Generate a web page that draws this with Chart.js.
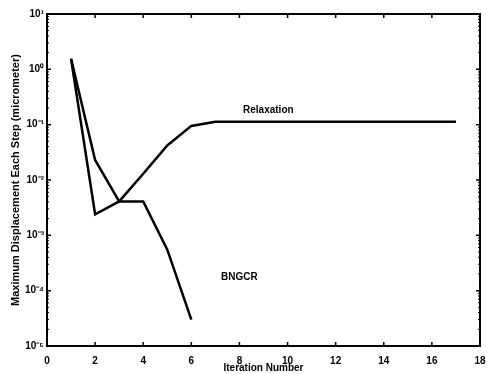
<!DOCTYPE html>
<html>
<head>
<meta charset="utf-8">
<script src="https://cdn.jsdelivr.net/npm/chart.js@4.4.0/dist/chart.umd.min.js"></script>
<style>
  html, body { margin: 0; padding: 0; background: #fff; }
  #wrap { width: 487px; height: 374px; }
</style>
</head>
<body>
<div id="wrap"><canvas id="plot"></canvas></div>
<script>
// iteration numbers
const relaxX = [1, 2, 3, 4, 5, 6, 7, 17];
const relaxY = [1.55, 0.0024, 0.0041, 0.013, 0.042, 0.095, 0.113, 0.113];
const bngcrX = [1, 2, 3, 4, 5, 6];
const bngcrY = [1.55, 0.023, 0.0041, 0.0041, 0.00055, 0.00003];
const xTicks = [0, 2, 4, 6, 8, 10, 12, 14, 16, 18];
const yTicks = [1e-5, 1e-4, 1e-3, 1e-2, 1e-1, 1e0, 1e1];
const yTickLabels = ["10⁻⁵", "10⁻⁴", "10⁻³", "10⁻²", "10⁻¹", "10⁰", "10¹"];
const curveNames = ["Relaxation", "BNGCR"];
const curveLabelAt = [[9.2, 0.18], [8.0, 0.000175]];

const toPts = (xs, ys) => xs.map((x, i) => ({ x: x, y: ys[i] }));
const fam = "'Liberation Sans', Arial, sans-serif";

// inward ticks + curve labels
const decor = {
  id: "decor",
  afterDraw(chart) {
    const ctx = chart.ctx;
    const xs = chart.scales.x, ys = chart.scales.y;
    const a = chart.chartArea;
    ctx.save();
    ctx.strokeStyle = "#000";
    ctx.lineWidth = 1.5;
    ctx.beginPath();
    xTicks.forEach(v => {
      const px = xs.getPixelForValue(v);
      ctx.moveTo(px, a.bottom); ctx.lineTo(px, a.bottom - 4);
      ctx.moveTo(px, a.top); ctx.lineTo(px, a.top + 4);
    });
    yTicks.forEach(v => {
      const py = ys.getPixelForValue(v);
      ctx.moveTo(a.left, py); ctx.lineTo(a.left + 4, py);
      ctx.moveTo(a.right, py); ctx.lineTo(a.right - 4, py);
    });
    ctx.stroke();
    ctx.lineWidth = 1;
    ctx.beginPath();
    for (let e = -5; e < 1; e++) {
      for (let m = 2; m < 10; m++) {
        const py = ys.getPixelForValue(m * Math.pow(10, e));
        ctx.moveTo(a.left, py); ctx.lineTo(a.left + 2, py);
        ctx.moveTo(a.right, py); ctx.lineTo(a.right - 2, py);
      }
    }
    ctx.stroke();
    ctx.fillStyle = "#000";
    ctx.font = "bold 10px " + fam;
    ctx.textAlign = "center";
    ctx.textBaseline = "middle";
    curveNames.forEach((n, i) => {
      ctx.fillText(n, xs.getPixelForValue(curveLabelAt[i][0]), ys.getPixelForValue(curveLabelAt[i][1]));
    });
    ctx.lineWidth = 2;
    ctx.strokeRect(a.left, a.top, a.right - a.left, a.bottom - a.top);
    ctx.restore();
  }
};

new Chart(document.getElementById("plot"), {
  type: "line",
  data: {
    datasets: [
      { label: curveNames[0], data: toPts(relaxX, relaxY), borderColor: "#000", borderWidth: 2.5, pointRadius: 0, tension: 0 },
      { label: curveNames[1], data: toPts(bngcrX, bngcrY), borderColor: "#000", borderWidth: 2.5, pointRadius: 0, tension: 0 }
    ]
  },
  options: {
    responsive: true,
    maintainAspectRatio: false,
    animation: false,
    layout: { padding: { top: 14, right: 7, left: 0, bottom: 0 } },
    plugins: { legend: { display: false }, tooltip: { enabled: false } },
    scales: {
      x: {
        type: "linear",
        min: 0, max: 18,
        afterBuildTicks: s => { s.ticks = xTicks.map(v => ({ value: v })); },
        grid: { display: false, drawTicks: false },
        border: { display: true, color: "#000", width: 2 },
        ticks: { color: "#000", font: { size: 10, weight: "bold", family: fam }, padding: 9, maxRotation: 0 },
        title: { display: true, text: "Iteration Number", color: "#000", font: { size: 10, weight: "bold", family: fam }, padding: { top: 0, bottom: 0 } },
        afterFit: s => { s.height = 28; s.paddingLeft = 0; s.paddingRight = 0; }
      },
      y: {
        type: "logarithmic",
        min: 1e-5, max: 10,
        afterBuildTicks: s => { s.ticks = yTicks.map(v => ({ value: v })); },
        grid: { display: false, drawTicks: false },
        border: { display: true, color: "#000", width: 2 },
        ticks: {
          color: "#000", font: { size: 10, weight: "bold", family: fam }, padding: 3,
          callback: v => yTickLabels[yTicks.indexOf(v)] ?? ""
        },
        title: { display: true, text: "Maximum Displacement Each Step (micrometer)", color: "#000", font: { size: 11, weight: "bold", family: fam }, padding: { top: 9, bottom: 0 } },
        afterFit: s => { s.width = 47; s.paddingTop = 0; s.paddingBottom = 0; }
      }
    }
  },
  plugins: [decor]
});
</script>
</body>
</html>
